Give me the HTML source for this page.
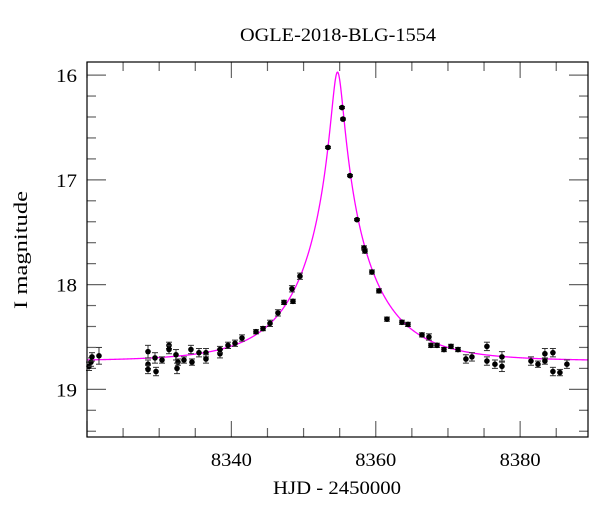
<!DOCTYPE html>
<html><head><meta charset="utf-8"><style>
body{margin:0;background:#fff}
svg text{font-family:"Liberation Serif",serif;fill:#000}
</style></head><body>
<svg id="c" width="600" height="512" xmlns="http://www.w3.org/2000/svg">
<text x="338" y="41" font-size="19" text-anchor="middle" textLength="196" lengthAdjust="spacingAndGlyphs">OGLE-2018-BLG-1554</text>
<text x="337" y="494" font-size="19" text-anchor="middle" textLength="128" lengthAdjust="spacingAndGlyphs">HJD - 2450000</text>
<text transform="translate(27,250) rotate(-90)" font-size="19" text-anchor="middle" textLength="118" lengthAdjust="spacingAndGlyphs">I magnitude</text>
<g id="ticks"></g><g id="model"></g><g id="pts"></g>
<rect x="87" y="62" width="501" height="375" fill="none" stroke="#000" stroke-width="1.2"/>
</svg>
<script>
const times=[8320.28,8320.55,8320.69,8321.66,8328.45,8328.45,8328.45,8329.56,8329.42,8330.39,8331.36,8331.36,8332.33,8332.60,8332.47,8333.43,8334.40,8334.54,8335.51,8336.48,8336.48,8338.42,8338.42,8339.53,8340.50,8341.47,8343.41,8344.38,8345.35,8346.45,8347.29,8348.53,8348.39,8349.50,8353.38,8355.32,8355.46,8356.43,8357.40,8358.37,8358.50,8359.47,8360.44,8361.55,8363.63,8364.46,8366.40,8367.37,8367.65,8368.48,8369.45,8370.42,8371.39,8372.49,8373.32,8375.40,8375.40,8376.51,8377.48,8377.48,8381.50,8382.47,8383.43,8383.43,8384.54,8384.54,8385.51,8386.48];
const mags=[18.78,18.74,18.69,18.68,18.64,18.76,18.81,18.83,18.70,18.72,18.58,18.62,18.67,18.74,18.80,18.72,18.62,18.74,18.65,18.65,18.71,18.66,18.62,18.58,18.56,18.51,18.45,18.42,18.37,18.27,18.17,18.16,18.04,17.92,16.69,16.31,16.42,16.96,17.38,17.65,17.68,17.88,18.06,18.33,18.36,18.38,18.48,18.50,18.58,18.58,18.62,18.59,18.62,18.71,18.69,18.59,18.73,18.76,18.69,18.78,18.73,18.76,18.66,18.73,18.65,18.83,18.84,18.76];
const errs=[0.04,0.04,0.04,0.08,0.06,0.04,0.04,0.04,0.05,0.03,0.03,0.04,0.05,0.03,0.05,0.03,0.04,0.03,0.04,0.04,0.04,0.04,0.03,0.03,0.03,0.03,0.02,0.02,0.03,0.03,0.02,0.02,0.03,0.03,0.01,0.01,0.01,0.01,0.01,0.02,0.02,0.02,0.02,0.02,0.02,0.02,0.02,0.03,0.02,0.02,0.02,0.02,0.02,0.04,0.04,0.04,0.04,0.04,0.05,0.05,0.04,0.03,0.05,0.03,0.04,0.04,0.03,0.04];
const xTicks=[8340,8360,8380];
const yTicks=[16,17,18,19];
const model={t0:8354.7,u0:0.079,tE:10,base:18.73};
const X0=87,X1=588,Y0=62,Y1=437,xmin=8320,xmax=8389.4,ymin=15.875,ymax=19.455;
const sx=t=>X0+(t-xmin)/(xmax-xmin)*(X1-X0);
const sy=m=>Y0+(m-ymin)/(ymax-ymin)*(Y1-Y0);
const NS='http://www.w3.org/2000/svg';
function mk(tag,attrs,parent){const e=document.createElementNS(NS,tag);for(const k in attrs)e.setAttribute(k,attrs[k]);parent.appendChild(e);return e;}
const tk=document.getElementById('ticks');
for(let t=8320;t<=8389;t+=5){const major=t%20===0;const L=major?16:9;const x=sx(t);
 let a=mk('line',{x1:x,x2:x,y1:Y1,y2:Y1-L,stroke:'#666','stroke-width':1.2},tk);
 
 
 let b=mk('line',{x1:x,x2:x,y1:Y0,y2:Y0+L,stroke:'#666','stroke-width':1.2},tk);
 
 }
xTicks.forEach(t=>{const e=mk('text',{x:sx(t),y:466,'font-size':19,'text-anchor':'middle',textLength:41,lengthAdjust:'spacingAndGlyphs'},tk);e.textContent=t;
 
 });
for(let i=80;i<=97;i++){const m=i/5;const major=i%5===0;const L=major?19:9;const y=sy(m);
 let a=mk('line',{x1:X0,x2:X0+L,y1:y,y2:y,stroke:'#666','stroke-width':1.2},tk);
 
 
 let b=mk('line',{x1:X1,x2:X1-L,y1:y,y2:y,stroke:'#666','stroke-width':1.2},tk);
 
 }
yTicks.forEach(m=>{const e=mk('text',{x:77,y:sy(m)+7,'font-size':19,'text-anchor':'end',textLength:21,lengthAdjust:'spacingAndGlyphs'},tk);e.textContent=m;
 
 });
function magAt(t){const p=(t-model.t0)/model.tE;const u=Math.sqrt(model.u0*model.u0+p*p);const A=(u*u+2)/(u*Math.sqrt(u*u+4));return model.base-2.5*Math.log10(A);}
let d='';for(let t=xmin;t<=xmax;t+=0.05){d+=(d?'L':'M')+sx(t).toFixed(2)+','+sy(magAt(t)).toFixed(2);}
const ml=mk('path',{d:d,fill:'none',stroke:'#ff00ff','stroke-width':1.3},document.getElementById('model'));


const pg=document.getElementById('pts');
times.forEach((t,i)=>{const x=sx(t),y=sy(mags[i]),e1=sy(mags[i]-errs[i]),e2=sy(mags[i]+errs[i]);
 const g=mk('g',{},pg);
 
 
 mk('line',{x1:x,x2:x,y1:e1,y2:e2,stroke:'#333','stroke-width':1},g);
 mk('line',{x1:x-3,x2:x+3,y1:e1,y2:e1,stroke:'#333','stroke-width':1},g);
 mk('line',{x1:x-3,x2:x+3,y1:e2,y2:e2,stroke:'#333','stroke-width':1},g);
 mk('circle',{cx:x,cy:y,r:2.8,fill:'#000'},g);});
</script>
</body></html>
